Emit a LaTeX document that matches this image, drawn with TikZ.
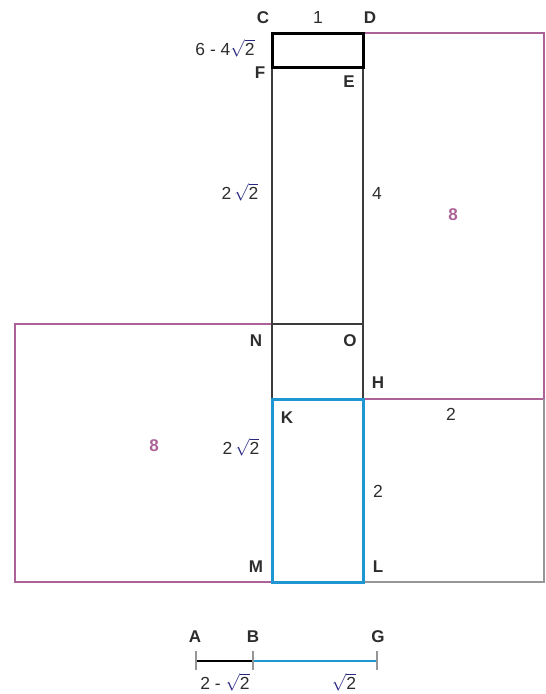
\documentclass[tikz,border=0pt]{standalone}
\usepackage{fontspec}
\setmainfont{Liberation Sans}
\usetikzlibrary{positioning}
\definecolor{boxpink}{RGB}{172,98,150}
\definecolor{segblue}{RGB}{30,150,210}
\definecolor{rootblue}{RGB}{40,40,130}
\definecolor{txtgray}{RGB}{45,45,45}
\definecolor{edgegray}{RGB}{60,60,60}
\definecolor{lightedge}{RGB}{150,150,150}
\newcommand{\rtwo}{\ensuremath{\textcolor{rootblue}{\sqrt{\textcolor{txtgray}{\mbox{2}}}}}}

\begin{document}
\begin{tikzpicture}[x=1pt,y=-1pt,
    pt/.style={font=\bfseries\fontsize{17}{20}\selectfont,text=txtgray},
    num/.style={font=\fontsize{17.5}{21}\selectfont,text=txtgray},
    area/.style={font=\bfseries\fontsize{17}{20}\selectfont,text=boxpink},
    pinkline/.style={draw=boxpink,line width=1.8pt},
    blueline/.style={draw=segblue,line width=3pt},
    darkline/.style={draw=edgegray,line width=1.5pt},
    tick/.style={draw=lightedge,line width=1.2pt}]
  \useasboundingbox (0,0) rectangle (546,694);
  % corners of the figure
  \coordinate (C) at (272,33);  \coordinate (D) at (363,33);
  \coordinate (F) at (272,67);  \coordinate (E) at (363,67);
  \coordinate (N) at (272,324); \coordinate (O) at (363,324);
  \coordinate (K) at (272,399); \coordinate (H) at (363,399);
  \coordinate (M) at (272,582); \coordinate (L) at (363,582);
  \coordinate (P1) at (15,324); \coordinate (P2) at (15,582);
  \coordinate (R1) at (544,33); \coordinate (R2) at (544,399);
  \coordinate (R3) at (544,582);
  % the two squares of area 8 and the square of side 2
  \draw[pinkline] (N) -- (P1) -- (P2) -- (M);
  \draw[pinkline] (D) -- (R1) -- (R2) -- (H);
  \draw[draw=lightedge,line width=1.6pt] (R2) -- (R3) -- (L);
  % the long rectangle
  \draw[darkline] (F) -- (K) (E) -- (H) (N) -- (O);
  \draw[blueline] (K) -- (H) -- (L) -- (M) -- cycle;
  \draw[line width=3pt] (C) -- (D) -- (E) -- (F) -- cycle;
  % labels
  \node[pt] (lC) at (263,18) {C};
  \node[pt] (lD) at (370,18) {D};
  \node[pt] (lF) at (260,73) {F};
  \node[pt] (lE) at (349,82) {E};
  \node[pt] (lN) at (256,341) {N};
  \node[pt] (lO) at (350,341) {O};
  \node[pt] (lH) at (378,383) {H};
  \node[pt] (lK) at (287,418) {K};
  \node[pt] (lM) at (256,567) {M};
  \node[pt] (lL) at (378,567) {L};
  \node[num] (top) at (318,17) {1};
  \node[num] (small) at (225,48) {6 - 4\rtwo};
  \node[num] (upper) at (240,192) {2\,\rtwo};
  \node[num] (four) at (377,193) {4};
  \node[num] (lower) at (241,447) {2\,\rtwo};
  \node[num] (twoa) at (451,414) {2};
  \node[num] (twob) at (378,491) {2};
  \node[area] (arear) at (453,215) {8};
  \node[area] (areal) at (154,446) {8};
  % the segment AG
  \coordinate (A) at (196,661); \coordinate (B) at (253,661);
  \coordinate (G) at (377,661);
  \draw[line width=2.8pt] (A) -- (B);
  \draw[draw=segblue,line width=2.8pt] (B) -- (G);
  \foreach \p in {A,B,G}
    \draw[tick] ([yshift=-9pt]\p) -- ([yshift=10pt]\p);
  \node[pt] (lA) at (195,637) {A};
  \node[pt] (lB) at (253,637) {B};
  \node[pt] (lG) at (378,637) {G};
  \node[num,inner sep=1pt] (ab) at (225,682) {2 - \rtwo};
  \node[num,inner sep=1pt] (bg) at (344,682) {\rtwo};
\end{tikzpicture}
\end{document}
